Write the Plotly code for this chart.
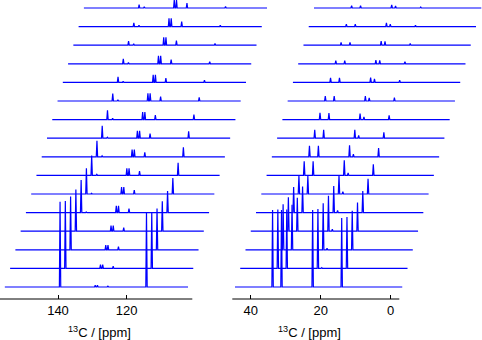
import plotly.graph_objects as go

# 16 spectra, bottom (first) to top (last)
N_ROWS = 16

# aromatic / olefinic window (left panel)
left_window = (155.5, 102.1)
left_ppm = [139.4, 137.9, 129.15, 128.5, 125.45, 114.2]
left_A = [85.3, 67.3, 53.3, 41.7, 32.7, 25.7, 20, 16, 12.5, 9.3, 7.5, 5.5, 5, 4, 3.7, 3.3]
left_A2 = [0, 0, 0, 0, 0.5, 0.7, 1, 1, 1, 1.2, 1.2, 1.2, 1.3, 1.3, 1.3, 1.3]
left_C1 = [1.7, 3.7, 4.7, 5.7, 6.7, 7, 7, 7.3, 7.5, 7.5, 7.7, 7.7, 8, 8, 8.3, 8.3]
left_C2 = [1.7, 3.7, 4.7, 5.7, 6.7, 7, 7, 7.3, 7.5, 7.5, 7.7, 7.7, 8, 8, 8.3, 8.3]
left_D = [0.8, 2.3, 3.3, 3.7, 4, 4, 4.3, 4.5, 4.6, 4.5, 4.5, 4.2, 4.3, 4.7, 5, 5]
left_B = [74, 56, 41.3, 30, 21.7, 16, 12.7, 9.5, 7, 5, 3.7, 2.3, 2, 1.7, 1.3, 1.5]

# aliphatic window (right panel)
right_window = (44.5, -3.3)
right_ppm = [33.75, 31.2, 22.3, 21.2, 14.0]
right_P1 = [77, 59, 45.5, 34, 25.5, 18.5, 14, 11, 8.5, 6.7, 5, 4.5, 3.3, 2.8, 2.5, 2.3]
right_P2 = [77, 59, 45, 33.5, 26, 18, 14, 11, 8.3, 6.5, 4.8, 4.5, 3.3, 2.8, 2.5, 2.3]
right_P3 = [77, 59.5, 46.5, 35.5, 26.7, 19, 15, 11.5, 8.3, 6, 4.8, 4.7, 3.7, 4.1, 3.8, 3.1]
right_P3b = [0, 0.7, 1.5, 2, 2.2, 2.4, 2.5, 2.7, 2.8, 2.8, 3, 3.5, 3.4, 3.8, 2.5, 2]
right_P4 = [69, 51.5, 39, 28.7, 21.7, 15.3, 11, 8.8, 5.8, 4.2, 3.3, 2.3, 2, 1.7, 1.3, 1]

left_heights = [left_A, left_A2, left_C1, left_C2, left_D, left_B]
right_heights = [right_P1, right_P2, right_P3, right_P3b, right_P4]

left_ticks = [140, 120]
right_ticks = [40, 20, 0]

W, H = 482, 340
ROW_DY = 18.6      # vertical offset per spectrum
ROW_DX_PX = 5.27   # horizontal offset per spectrum (pixels)
LEFT_SCALE = 3.43  # px per ppm
RIGHT_SCALE = 3.5
HALF_W = 0.2       # peak half width (ppm)
BLUE = "rgb(0,0,255)"
FONT = "Liberation Sans, Arial, Helvetica, sans-serif"


def spectrum(window, ppm, heights, row, shift):
    pts = sorted(zip(ppm, [h[row] for h in heights]), reverse=True)
    xs, ys = [window[0]], [0]
    for p, h in pts:
        xs += [p + HALF_W, p, p - HALF_W]
        ys += [0, h, 0]
    xs.append(window[1])
    ys.append(0)
    off = row * shift
    return [x - off for x in xs], [y + row * ROW_DY for y in ys]


fig = go.Figure()
for i in range(N_ROWS):
    x, y = spectrum(left_window, left_ppm, left_heights, i, ROW_DX_PX / LEFT_SCALE)
    fig.add_trace(go.Scatter(x=x, y=y, mode="lines", xaxis="x", yaxis="y",
                             line=dict(color=BLUE, width=1.2), showlegend=False,
                             hoverinfo="skip"))
    x, y = spectrum(right_window, right_ppm, right_heights, i, ROW_DX_PX / RIGHT_SCALE)
    fig.add_trace(go.Scatter(x=x, y=y, mode="lines", xaxis="x2", yaxis="y",
                             line=dict(color=BLUE, width=1.2), showlegend=False,
                             hoverinfo="skip"))

# pixel geometry of the two panels
l_dom = (0, 280)
l_tick_px = 58.0
l_range = [140 + (l_tick_px - l_dom[0]) / LEFT_SCALE, 140 - (l_dom[1] - l_tick_px) / LEFT_SCALE]
r_dom = (228, 482)
r_tick_px = 250.7
r_range = [40 + (r_tick_px - r_dom[0]) / RIGHT_SCALE, 40 - (r_dom[1] - r_tick_px) / RIGHT_SCALE]

axis_common = dict(showgrid=False, zeroline=False, showline=False, ticks="inside",
                   ticklen=4, tickwidth=1, tickcolor="black", ticklabelstandoff=2,
                   tickfont=dict(family=FONT, size=13, color="black"), anchor="y")

fig.update_layout(
    width=W, height=H,
    margin=dict(l=0, r=0, t=0, b=41),
    paper_bgcolor="white", plot_bgcolor="rgba(0,0,0,0)",
    xaxis=dict(domain=[l_dom[0] / W, l_dom[1] / W], range=l_range,
               tickvals=left_ticks, **axis_common),
    xaxis2=dict(domain=[r_dom[0] / W, r_dom[1] / W], range=r_range,
                tickvals=right_ticks, **axis_common),
    yaxis=dict(visible=False, range=[-12, 287], domain=[0, 1]),
    shapes=[
        dict(type="line", xref="x", yref="paper", x0=l_range[0], x1=140 - (192.3 - l_tick_px) / LEFT_SCALE,
             y0=0, y1=0, line=dict(color="black", width=1)),
        dict(type="line", xref="x2", yref="paper", x0=40 + (r_tick_px - 232.3) / RIGHT_SCALE,
             x1=40 - (399.3 - r_tick_px) / RIGHT_SCALE, y0=0, y1=0,
             line=dict(color="black", width=1)),
    ],
    annotations=[
        dict(text="<sup>13</sup>C / [ppm]", xref="paper", yref="paper",
             x=99.5 / W, y=-(331.7 - 299) / 299, xanchor="center", yanchor="middle",
             showarrow=False, font=dict(family=FONT, size=13, color="black")),
        dict(text="<sup>13</sup>C / [ppm]", xref="paper", yref="paper",
             x=309.7 / W, y=-(331.7 - 299) / 299, xanchor="center", yanchor="middle",
             showarrow=False, font=dict(family=FONT, size=13, color="black")),
    ],
)

fig.write_html("out.html", config={"displayModeBar": False},
               post_script="document.body.style.margin='0';")
